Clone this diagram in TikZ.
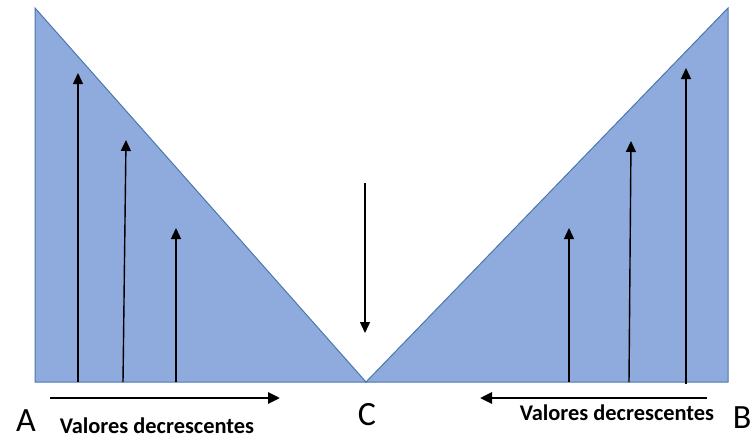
\documentclass[tikz,border=0pt]{standalone}
\usepackage{fontspec}
\setmainfont{Carlito}
\usetikzlibrary{arrows.meta}
\definecolor{tfill}{HTML}{8FAADC}
\definecolor{tline}{HTML}{4A78AE}
\tikzset{
  tri/.style={fill=tfill, draw=tline, line width=1pt, line join=miter},
  vup/.style={line width=1.4pt, -{Triangle[width=10pt,length=11pt]}},
  harrow/.style={line width=2.8pt, -{Triangle[width=11pt,length=12pt]}},
  big/.style={font=\fontsize{34}{34}\selectfont, inner sep=0pt},
  lab/.style={font=\bfseries\fontsize{22.4}{22.4}\selectfont, inner sep=0pt}
}
\begin{document}
\begin{tikzpicture}[x=1pt,y=-1pt]
\useasboundingbox (0,0) rectangle (754,439);
% triangles
\coordinate (LT) at (35,8);
\coordinate (LB) at (35,382);
\coordinate (Cp) at (366,382);
\coordinate (RT) at (728,8);
\coordinate (RB) at (728,382);
\draw[tri] (LT) -- (LB) -- (Cp) -- cycle;
\draw[tri] (Cp) -- (RT) -- (RB) -- cycle;
% left vertical arrows
\coordinate (a1s) at (78,382);  \coordinate (a1e) at (78,73);
\coordinate (a2s) at (123,382); \coordinate (a2e) at (126,140);
\coordinate (a3s) at (176,382); \coordinate (a3e) at (176,228);
\draw[vup] (a1s) -- (a1e);
\draw[vup] (a2s) -- (a2e);
\draw[vup] (a3s) -- (a3e);
% right vertical arrows
\coordinate (b1s) at (569,382); \coordinate (b1e) at (569,228);
\coordinate (b2s) at (629,382); \coordinate (b2e) at (631,141);
\coordinate (b3s) at (686,384); \coordinate (b3e) at (686,68);
\draw[vup] (b1s) -- (b1e);
\draw[vup] (b2s) -- (b2e);
\draw[vup] (b3s) -- (b3e);
% middle down arrow
\coordinate (ms) at (365,183); \coordinate (me) at (365,333);
\draw[vup] (ms) -- (me);
% horizontal arrows
\coordinate (h1s) at (50,398);  \coordinate (h1e) at (280,398);
\coordinate (h2s) at (707,398); \coordinate (h2e) at (480,398);
\draw[harrow] (h1s) -- (h1e);
\draw[harrow] (h2s) -- (h2e);
% labels
\node[big] (A) at (26,421) {A};
\node[big] (C) at (367,415) {C};
\node[big] (B) at (742,418) {B};
\node[lab] (L1) at (157,426) {Valores decrescentes};
\node[lab] (L2) at (617,413) {Valores decrescentes};
\end{tikzpicture}
\end{document}
